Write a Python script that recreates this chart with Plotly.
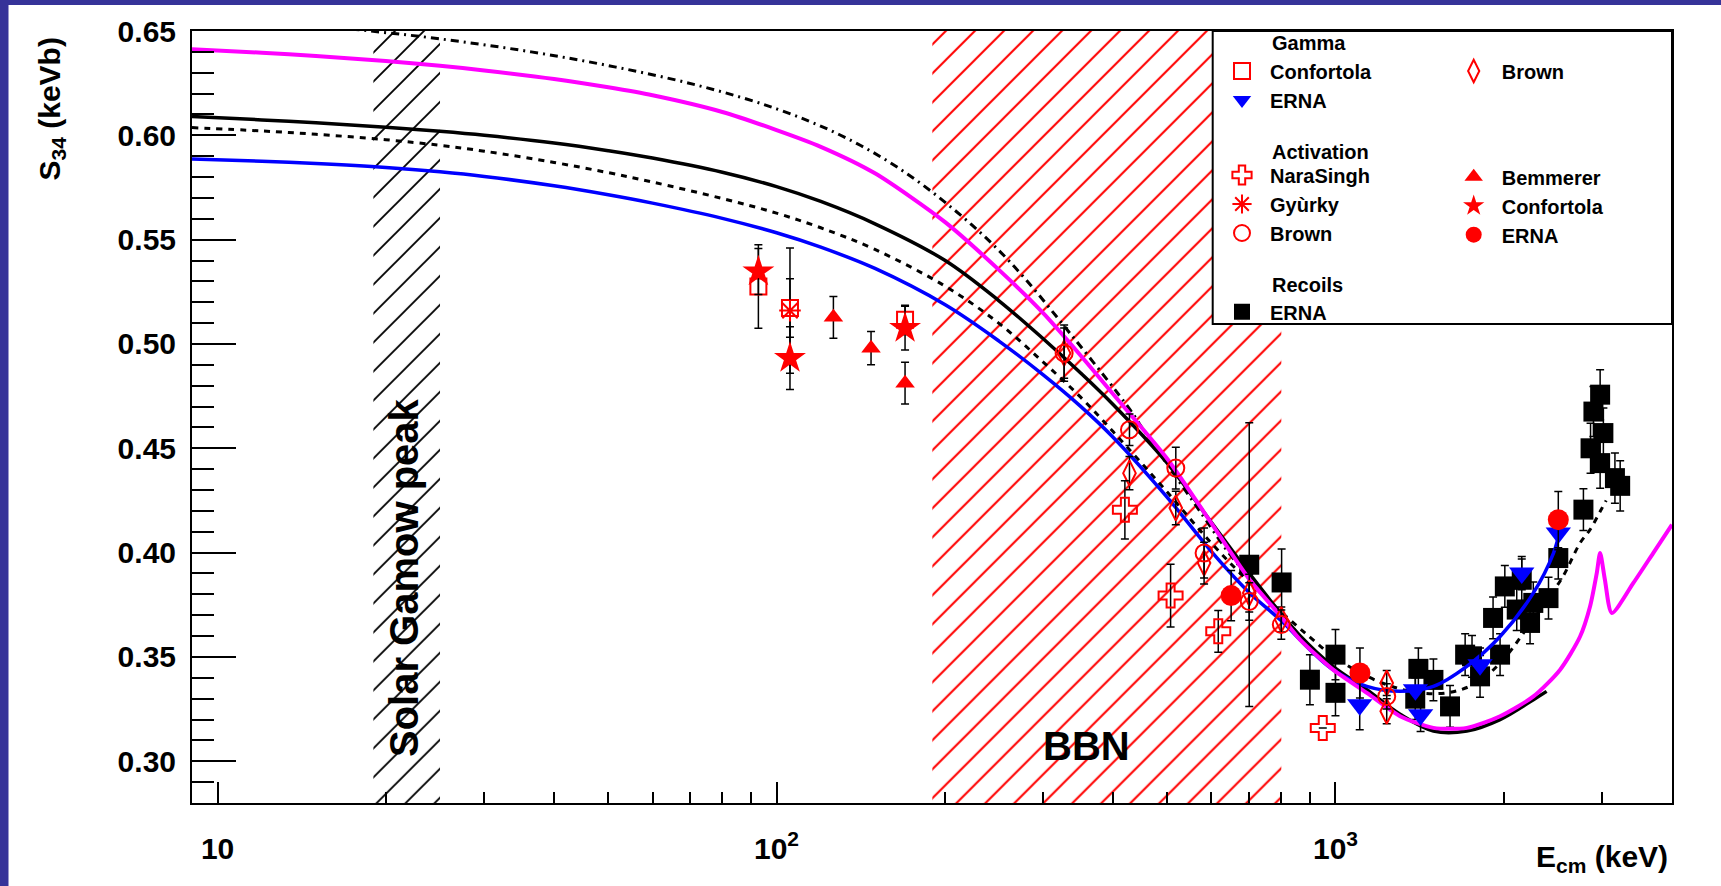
import numpy as np
import plotly.graph_objects as go

FONT = "Liberation Sans"

# ---------------- axes ----------------
X_RANGE = [9, 4000]
Y_RANGE = [0.28, 0.65]
X_TICKS = [10, 100, 1000]
X_TICKTEXT = ["10", "10<sup>2</sup>", "10<sup>3</sup>"]
X_MINOR = [20, 30, 40, 50, 60, 70, 80, 90, 200, 300, 400, 500, 600, 700, 800, 900, 2000, 3000]

# ---------------- shaded energy windows (keV) ----------------
GAMOW_RANGE = [19, 25]
BBN_RANGE = [190, 800]

# ---------------- theory curves ----------------
MAG_E = [9, 12, 15, 20, 25, 30, 40, 50, 60, 80, 100, 120, 150, 200, 250, 300, 350, 400, 500, 600,
         700, 800, 864, 990, 1138, 1305, 1497, 1718, 1970, 2260, 2523, 2739, 2854, 2934, 2975, 3034,
         3122, 3414, 3702, 4000]
MAG_S = [0.6412, 0.6396, 0.6380, 0.6356, 0.6334, 0.6311, 0.6270, 0.6230, 0.6192, 0.6112, 0.6025,
         0.5945, 0.5818, 0.5585, 0.5355, 0.5148, 0.4945, 0.4760, 0.4450, 0.4140, 0.3875, 0.3692,
         0.3583, 0.3439, 0.3328, 0.3216, 0.3160, 0.3160, 0.3216, 0.3311, 0.3439, 0.3598, 0.3742,
         0.3902, 0.3998, 0.3870, 0.3711, 0.3856, 0.3998, 0.4134]

BLK_E = [9, 12, 15, 20, 25, 30, 40, 50, 60, 80, 100, 120, 150, 200, 250, 300, 350, 400, 500, 600,
         700, 800, 864, 990, 1138, 1305, 1497, 1718, 1970, 2260, 2386]
BLK_S = [0.6090, 0.6074, 0.6060, 0.6039, 0.6019, 0.6000, 0.5963, 0.5926, 0.5891, 0.5823, 0.5754,
         0.5683, 0.5576, 0.5401, 0.5207, 0.5025, 0.4861, 0.4710, 0.4429, 0.4144, 0.3903, 0.3706,
         0.3602, 0.3455, 0.3343, 0.3225, 0.3145, 0.3145, 0.3200, 0.3295, 0.3335]

DASH_E = [9, 12, 15, 20, 25, 30, 40, 50, 60, 80, 100, 120, 150, 200, 250, 300, 350, 400, 500, 600,
          700, 800, 900, 1000, 1200, 1400, 1600, 1800, 2000, 2190, 2400, 2553, 2739, 2854, 2975, 3050]
DASH_S = [0.6037, 0.6021, 0.6005, 0.5979, 0.5952, 0.5924, 0.5870, 0.5821, 0.5776, 0.5697, 0.5627,
          0.5557, 0.5453, 0.5278, 0.5099, 0.4913, 0.4745, 0.4580, 0.4290, 0.4045, 0.3860, 0.3715,
          0.3595, 0.3495, 0.3380, 0.3330, 0.3330, 0.3380, 0.3490, 0.3630, 0.3780, 0.3886, 0.4046,
          0.4110, 0.4197, 0.4250]

DD_E = [9, 14, 18, 24.7, 36.4, 51.6, 73.1, 100, 129.4, 164.3, 208.6, 260.2, 340, 429, 453, 580,
        648, 750, 900]
DD_S = [0.6570, 0.6532, 0.6505, 0.6464, 0.6400, 0.6327, 0.6236, 0.6127, 0.6004, 0.5848, 0.5640,
        0.5400, 0.5030, 0.4685, 0.4590, 0.4175, 0.3990, 0.3790, 0.3545]

BLUE_E = [9, 12, 15, 20, 25, 30, 40, 50, 60, 80, 100, 120, 150, 200, 250, 300, 350, 400, 500, 600,
          700, 800, 900, 990, 1138, 1305, 1497, 1718, 1970, 2260, 2455, 2523]
BLUE_S = [0.5887, 0.5876, 0.5865, 0.5846, 0.5825, 0.5803, 0.5758, 0.5715, 0.5675, 0.5602, 0.5533,
          0.5464, 0.5362, 0.5189, 0.5014, 0.4852, 0.4701, 0.4553, 0.4265, 0.4005, 0.3810, 0.3673,
          0.3535, 0.3439, 0.3359, 0.3335, 0.3359, 0.3455, 0.3598, 0.3807, 0.3998, 0.4110]

# ---------------- data: Gamma ----------------
G_CONF_E = [92.8, 105.7, 169.8]
G_CONF_S = [0.5275, 0.5172, 0.5116]
G_CONF_ERR = [0.020, 0.014, 0.007]

G_ERNA_E = [1105, 1390, 1420, 1814, 2154, 2504]
G_ERNA_S = [0.3271, 0.3343, 0.3223, 0.3463, 0.3902, 0.4094]
G_ERNA_ERR = [0.012, 0.008, 0.008, 0.008, 0.008, 0.008]

G_BROWN_E = [327, 428, 518, 582, 701, 800, 1235, 1235]
G_BROWN_S = [0.4956, 0.4381, 0.4214, 0.3950, 0.3806, 0.3679, 0.3375, 0.3240]
G_BROWN_ERR = [0.012, 0.008, 0.008, 0.010, 0.009, 0.006, 0.006, 0.006]

# ---------------- data: Activation ----------------
A_NARA_E = [420, 507, 617, 949]
A_NARA_S = [0.4205, 0.3794, 0.3623, 0.3160]
A_NARA_ERR = [0.014, 0.015, 0.010, 0.0]

A_GYURKY_E = [105.7]
A_GYURKY_S = [0.5160]
A_GYURKY_ERR = [0.030]

A_BROWN_E = [327, 428, 518, 582, 701, 800, 1235]
A_BROWN_S = [0.4956, 0.4589, 0.4405, 0.3998, 0.3766, 0.3655, 0.3311]
A_BROWN_ERR = [0.0135, 0.0075, 0.010, 0.012, 0.009, 0.007, 0.006]

A_BEMM_E = [126.4, 147.6, 169.8]
A_BEMM_S = [0.5128, 0.4980, 0.4812]
A_BEMM_ERR = [0.010, 0.008, 0.010]

A_CONF_E = [92.8, 105.7, 169.8]
A_CONF_S = [0.5347, 0.4932, 0.5076]
A_CONF_ERR = [0.011, 0.015, 0.0105]

A_ERNA_E = [650.6, 1106, 2504]
A_ERNA_S = [0.3794, 0.3423, 0.4158]
A_ERNA_ERR = [0.012, 0.012, 0.0135]

# ---------------- data: Recoils ----------------
R_ERNA_E = [701, 801, 900, 1000, 1000, 1389, 1407, 1497, 1603, 1706, 1755, 1814, 1914, 1970, 2009,
            2110, 2154, 2229, 2259, 2405, 2504, 2777, 2860, 2894, 2975, 2975, 3015, 3162, 3231]
R_ERNA_S = [0.3942, 0.3857, 0.3391, 0.3511, 0.3328, 0.3300, 0.3443, 0.3390, 0.3263, 0.3511, 0.3503,
            0.3407, 0.3687, 0.3511, 0.3838, 0.3727, 0.3870, 0.3663, 0.3759, 0.3782, 0.3974, 0.4206,
            0.4500, 0.4676, 0.4757, 0.4429, 0.4573, 0.4357, 0.4320]
R_ERNA_ERR = [0.068, 0.016, 0.012, 0.012, 0.011, 0.010, 0.010, 0.010, 0.010, 0.010, 0.010, 0.010,
              0.010, 0.010, 0.010, 0.010, 0.010, 0.010, 0.010, 0.010, 0.010, 0.010, 0.012, 0.012,
              0.012, 0.012, 0.012, 0.012, 0.012]

RED = "#ff0000"
BLUE = "#0000ff"
MAGENTA = "#ff00ff"

fig = go.Figure()


def hatch(xr, color, solidity):
    fig.add_trace(go.Scatter(
        x=[xr[0], xr[1], xr[1], xr[0], xr[0]],
        y=[Y_RANGE[0], Y_RANGE[0], Y_RANGE[1], Y_RANGE[1], Y_RANGE[0]],
        mode="lines", fill="toself", fillcolor="rgba(0,0,0,0)",
        fillpattern=dict(shape="/", fgcolor=color, fgopacity=1, bgcolor="rgba(0,0,0,0)",
                         size=20.5, solidity=solidity),
        line=dict(width=0, color="rgba(0,0,0,0)"), showlegend=False, hoverinfo="skip"))


hatch(GAMOW_RANGE, "black", 0.09)
hatch(BBN_RANGE, RED, 0.10)


def points(x, y, err, symbol, color, size, legend, name, lw=2):
    fig.add_trace(go.Scatter(
        x=x, y=y, mode="markers", name=name, legend=legend,
        marker=dict(symbol=symbol, size=size, color=color, line=dict(color=color, width=lw)),
        error_y=dict(type="data", array=err, visible=True, color="black", thickness=1.5, width=4)))


def curve(x, y, color, width, dash="solid", smoothing=1.0):
    fig.add_trace(go.Scatter(x=x, y=y, mode="lines",
                             line=dict(color=color, width=width, dash=dash, shape="spline",
                                       smoothing=smoothing),
                             showlegend=False, hoverinfo="skip"))


# recoils under the curves
points(R_ERNA_E, R_ERNA_S, R_ERNA_ERR, "square", "black", 20, "legend5", "ERNA", 0)

curve(DD_E, DD_S, "black", 3, "8px,5px,2px,5px")
curve(DASH_E, DASH_S, "black", 3, "6px,6px")
curve(BLK_E, BLK_S, "black", 3.5)
curve(BLUE_E, BLUE_S, BLUE, 3.5)
curve(MAG_E, MAG_S, MAGENTA, 4, smoothing=0.7)

points(G_CONF_E, G_CONF_S, G_CONF_ERR, "square-open", RED, 16, "legend", "Confortola")
points(G_ERNA_E, G_ERNA_S, G_ERNA_ERR, "triangle-down", BLUE, 22, "legend", "ERNA", 0)
points(G_BROWN_E, G_BROWN_S, G_BROWN_ERR, "diamond-tall-open", RED, 18, "legend2", "Brown")
points(A_NARA_E, A_NARA_S, A_NARA_ERR, "cross-open", RED, 20, "legend3", "NaraSingh")
points(A_GYURKY_E, A_GYURKY_S, A_GYURKY_ERR, "asterisk-open", RED, 18, "legend3", "Gyùrky")
points(A_BROWN_E, A_BROWN_S, A_BROWN_ERR, "circle-open", RED, 17, "legend3", "Brown")
points(A_BEMM_E, A_BEMM_S, A_BEMM_ERR, "triangle-up", RED, 17, "legend4", "Bemmerer", 0)
points(A_CONF_E, A_CONF_S, A_CONF_ERR, "star", RED, 24, "legend4", "Confortola", 0)
points(A_ERNA_E, A_ERNA_S, A_ERNA_ERR, "circle", RED, 21, "legend4", "ERNA", 0)

# ---------------- layout ----------------
W, H = 1721, 886
ML, MR, MT, MB = 192, 49, 31, 83
PW, PH = W - ML - MR, H - MT - MB


def px(xp):
    return (xp - ML) / PW


def py(yp):
    return (H - MB - yp) / PH


bold = dict(family=FONT, color="black", weight="bold")

leg_common = dict(bgcolor="rgba(0,0,0,0)", borderwidth=0, itemwidth=46, xanchor="left", yanchor="top",
                  tracegroupgap=0, font=dict(size=20, **bold), itemclick=False, itemdoubleclick=False)

BORDER = "#363399"
shapes = [
    dict(type="rect", xref="paper", yref="paper", x0=px(0), x1=px(8.5), y0=py(H), y1=py(0),
         fillcolor=BORDER, line=dict(width=0), layer="above"),
    dict(type="rect", xref="paper", yref="paper", x0=px(0), x1=px(W), y0=py(5), y1=py(0),
         fillcolor=BORDER, line=dict(width=0), layer="above"),
    dict(type="rect", xref="paper", yref="paper", x0=px(1212.7), x1=1.0, y0=py(324), y1=1.0,
         fillcolor="white", line=dict(color="black", width=2), layer="above"),
]

annotations = [
    dict(text="Gamma", x=px(1270), y=py(43.3), xref="paper", yref="paper", xanchor="left",
         yanchor="middle", showarrow=False, font=dict(size=20, **bold)),
    dict(text="Activation", x=px(1270), y=py(151.7), xref="paper", yref="paper", xanchor="left",
         yanchor="middle", showarrow=False, font=dict(size=20, **bold)),
    dict(text="Recoils", x=px(1270), y=py(285), xref="paper", yref="paper", xanchor="left",
         yanchor="middle", showarrow=False, font=dict(size=20, **bold)),
    dict(text="S<sub>34</sub> (keVb)", x=px(51), y=py(109.5), xref="paper", yref="paper",
         xanchor="center", yanchor="middle", textangle=-90, showarrow=False, font=dict(size=30, **bold)),
    dict(text="E<sub>cm</sub> (keV)", x=px(1670), y=py(858), xref="paper", yref="paper",
         xanchor="right", yanchor="middle", showarrow=False, font=dict(size=30, **bold)),
    dict(text="Solar Gamow peak", x=np.log10(21.5), y=0.388, xref="x", yref="y",
         xanchor="center", yanchor="middle", textangle=-90, showarrow=False, font=dict(size=40, **bold)),
    dict(text="BBN", x=np.log10(359), y=0.3072, xref="x", yref="y",
         xanchor="center", yanchor="middle", showarrow=False, font=dict(size=40, **bold)),
]

tickfont = dict(size=30, **bold)
fig.update_layout(
    width=W, height=H, autosize=False,
    margin=dict(l=ML, r=MR, t=MT, b=MB, pad=0),
    paper_bgcolor="white", plot_bgcolor="white",
    xaxis=dict(type="log", range=[np.log10(X_RANGE[0]), np.log10(X_RANGE[1])],
               tickmode="array", tickvals=X_TICKS, ticktext=X_TICKTEXT,
               ticks="inside", ticklen=21, tickwidth=1.5, tickcolor="black",
               minor=dict(tickmode="array", tickvals=X_MINOR, ticks="inside", ticklen=11,
                          tickwidth=1.5, tickcolor="black", showgrid=False),
               showline=True, linecolor="black", linewidth=2, mirror=True,
               showgrid=False, zeroline=False, tickfont=tickfont, ticklabelstandoff=18),
    yaxis=dict(range=Y_RANGE, tick0=0.30, dtick=0.05, tickformat=".2f",
               ticks="inside", ticklen=44, tickwidth=1.5, tickcolor="black",
               minor=dict(tick0=0.30, dtick=0.01, ticks="inside", ticklen=22, tickwidth=1.5,
                          tickcolor="black", showgrid=False),
               showline=True, linecolor="black", linewidth=2, mirror=True,
               showgrid=False, zeroline=False, tickfont=tickfont, ticklabelstandoff=8),
    shapes=shapes,
    annotations=annotations,
    legend=dict(x=px(1214), y=py(51.5), **leg_common),
    legend2=dict(x=px(1445.7), y=py(51.5), **leg_common),
    legend3=dict(x=px(1214), y=py(155.5), **leg_common),
    legend4=dict(x=px(1445.7), y=py(157.2), **leg_common),
    legend5=dict(x=px(1214), y=py(292.2), **leg_common),
)

fig.write_html("out.html")
